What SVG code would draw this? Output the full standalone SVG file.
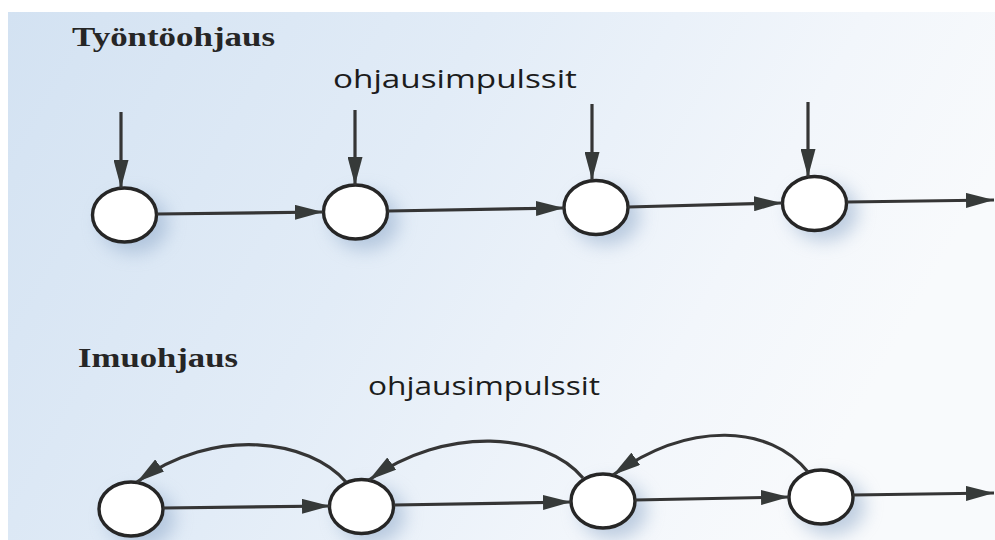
<svg xmlns="http://www.w3.org/2000/svg" width="995" height="540" viewBox="0 0 995 540">
  <defs>
    <linearGradient id="paper" x1="0" y1="0" x2="1" y2="0.3">
      <stop offset="0" stop-color="#d3e2f2"/>
      <stop offset="0.45" stop-color="#e2ecf7"/>
      <stop offset="0.8" stop-color="#f2f6fb"/>
      <stop offset="1" stop-color="#f8fafc"/>
    </linearGradient>
    <filter id="glow" x="-60%" y="-60%" width="220%" height="220%">
      <feGaussianBlur stdDeviation="9"/>
    </filter>
    <marker id="head" viewBox="0 0 28 15" refX="28" refY="7.5" markerWidth="28" markerHeight="15" markerUnits="userSpaceOnUse" orient="auto">
      <path d="M0,0 L28,7.5 L0,15 Z" fill="#363a39"/>
    </marker>
    <style>
      .node ellipse.body { fill: #ffffff; stroke: #262626; stroke-width: 3.4; }
      .node ellipse.shade { fill: #8fa9c9; opacity: 0.55; filter: url(#glow); }
      .edge { fill: none; stroke: #353535; stroke-width: 3.2; marker-end: url(#head); }
      .title { font-family: "Liberation Serif", "Times New Roman", serif; font-weight: bold; font-size: 27px; fill: #262626; }
      .label { font-family: "Open Sans", "Noto Sans", sans-serif; font-size: 26px; fill: #1c1c1c; }
    </style>
  </defs>

  <!-- page background -->
  <rect width="995" height="540" fill="#ffffff"/>
  <rect x="8" y="12" width="987" height="528" fill="url(#paper)"/>

  <!-- headings and labels -->
  <text class="title" x="72" y="46" textLength="203" lengthAdjust="spacingAndGlyphs">Työntöohjaus</text>
  <text class="label" x="333" y="88" textLength="244" lengthAdjust="spacingAndGlyphs">ohjausimpulssit</text>
  <text class="title" x="78" y="367" textLength="160" lengthAdjust="spacingAndGlyphs">Imuohjaus</text>
  <text class="label" x="368" y="395" textLength="232" lengthAdjust="spacingAndGlyphs">ohjausimpulssit</text>

  <!-- push control row -->
  <g id="push-1" class="node">
    <ellipse class="shade" cx="134" cy="224" rx="34" ry="29"/>
    <ellipse class="body" cx="124.5" cy="215" rx="32" ry="27"/>
  </g>
  <g id="push-2" class="node">
    <ellipse class="shade" cx="365" cy="221" rx="34" ry="29"/>
    <ellipse class="body" cx="355.5" cy="212" rx="32" ry="27"/>
  </g>
  <g id="push-3" class="node">
    <ellipse class="shade" cx="606" cy="216" rx="34" ry="29"/>
    <ellipse class="body" cx="596" cy="207.5" rx="32" ry="27"/>
  </g>
  <g id="push-4" class="node">
    <ellipse class="shade" cx="824" cy="212" rx="34" ry="29"/>
    <ellipse class="body" cx="814.5" cy="203.5" rx="32" ry="27"/>
  </g>

  <!-- pull control row -->
  <g id="pull-1" class="node">
    <ellipse class="shade" cx="141" cy="518" rx="34" ry="29"/>
    <ellipse class="body" cx="131" cy="509" rx="32" ry="27"/>
  </g>
  <g id="pull-2" class="node">
    <ellipse class="shade" cx="371" cy="515" rx="34" ry="29"/>
    <ellipse class="body" cx="361.5" cy="506.5" rx="32" ry="27"/>
  </g>
  <g id="pull-3" class="node">
    <ellipse class="shade" cx="613" cy="510" rx="34" ry="29"/>
    <ellipse class="body" cx="603" cy="501" rx="32" ry="27"/>
  </g>
  <g id="pull-4" class="node">
    <ellipse class="shade" cx="831" cy="506" rx="34" ry="29"/>
    <ellipse class="body" cx="821" cy="497" rx="32" ry="27"/>
  </g>

  <g id="connectors">
    <!-- control impulses into the push row -->
    <path class="edge" d="M121,112 V188"/>
    <path class="edge" d="M355,110 V185"/>
    <path class="edge" d="M592,104 V180"/>
    <path class="edge" d="M808,102 V177"/>
    <!-- material flow, push row -->
    <path class="edge" d="M157,214 L323,212"/>
    <path class="edge" d="M388,211 L564,208"/>
    <path class="edge" d="M628,207 L782,203"/>
    <path class="edge" d="M847,202 L994,200"/>
    <!-- material flow, pull row -->
    <path class="edge" d="M163,508 L330,506"/>
    <path class="edge" d="M394,505 L571,502"/>
    <path class="edge" d="M635,500 L789,497"/>
    <path class="edge" d="M853,495 L994,493"/>
    <!-- pull signals back upstream -->
    <path class="edge" d="M346,482 C310,440 215,425 137,482"/>
    <path class="edge" d="M583,478 C545,432 445,425 369,480"/>
    <path class="edge" d="M808,472 C770,425 690,420 613,475"/>
  </g>
</svg>
